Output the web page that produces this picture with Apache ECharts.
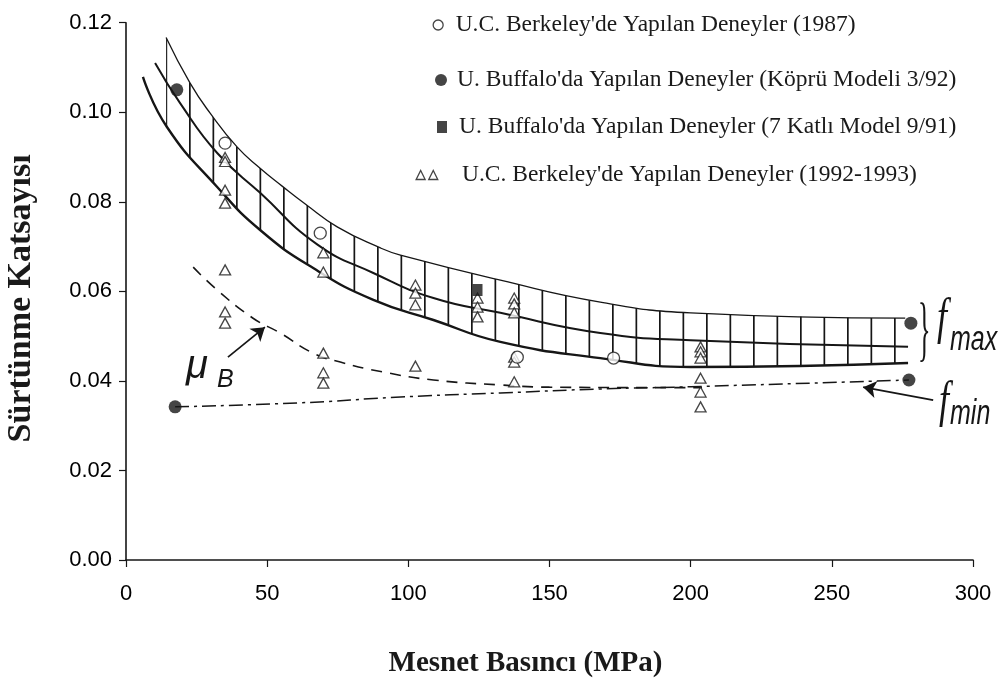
<!DOCTYPE html>
<html><head><meta charset="utf-8">
<script src="https://cdn.jsdelivr.net/npm/echarts@6/dist/echarts.min.js"></script>
<style>html,body{margin:0;padding:0;background:#fff}#c{width:1000px;height:684px}</style>
</head><body><div id="c"></div>
<script>
// ---- data ----
const xTickValues = [0, 50, 100, 150, 200, 250, 300];
const yTickLabels = ['0.00', '0.02', '0.04', '0.06', '0.08', '0.10', '0.12'];

const legendNames = [
  "U.C. Berkeley'de Yapılan Deneyler (1987)",
  "U. Buffalo'da Yapılan Deneyler (Köprü Modeli 3/92)",
  "U. Buffalo'da Yapılan Deneyler (7 Katlı Model 9/91)",
  "U.C. Berkeley'de Yapılan Deneyler (1992-1993)"
];

const bandUpper = [[14.2,0.1167],[22.7,0.1065],[29.8,0.0998],[39.4,0.0922],[47.5,0.0875],[55.3,0.0835],[63.5,0.0795],[74.8,0.0744],[90.1,0.0697],[97.2,0.0681],[132.6,0.0625],[168,0.0576],[200,0.0552],[276,0.0540]];
const bandLower = [[6,0.1079],[14.5,0.0967],[32.3,0.0833],[47.5,0.0737],[66.3,0.0652],[87.6,0.0581],[108.9,0.0536],[132.6,0.0487],[168,0.0451],[200,0.0431],[277,0.0440]];
const bandMiddle = [[10.3,0.1110],[19.1,0.1021],[32.3,0.0909],[47.5,0.0820],[67.7,0.0705],[87.6,0.0641],[108.9,0.0585],[132.6,0.0552],[168,0.0507],[200,0.0491],[277,0.0476]];
const muB = [[23.8,0.0654],[32.3,0.0603],[45,0.0540],[54.6,0.0507],[66.3,0.0462],[75.9,0.0442],[91,0.0420],[108.9,0.0402],[132.6,0.0391],[150,0.0386],[192,0.0385],[204,0.0385]];
const fMin = [[17.4,0.0342],[61.7,0.0351],[97.2,0.0364],[132.6,0.0373],[168,0.0382],[200,0.0387],[277.3,0.0402]];

const berkeley1987 = [[35.1,0.0931],[68.8,0.0730],[138.6,0.0453],[172.7,0.0451]];
const buffaloBridge = [[18,0.1050],[17.4,0.0342],[278,0.0529],[277.3,0.0402]];
const buffalo7Story = [[124.5,0.0603]];
const berkeley1992 = [[35.1,0.0899],[35.1,0.0890],[35.1,0.0826],[35.1,0.0797],[35.1,0.0648],[35.1,0.0554],[35.1,0.0529],
  [69.9,0.0686],[69.9,0.0643],[69.9,0.0462],[69.9,0.0418],[69.9,0.0395],
  [102.5,0.0614],[102.5,0.0596],[102.5,0.0570],[102.5,0.0433],
  [124.5,0.0585],[124.5,0.0565],[124.5,0.0543],
  [137.5,0.0585],[137.5,0.0572],[137.5,0.0552],[137.5,0.0453],[137.5,0.0442],[137.5,0.0398],
  [203.5,0.0476],[203.5,0.0465],[203.5,0.0451],[203.5,0.0406],[203.5,0.0375],[203.5,0.0342]];

const muBArrow = [[36.1,0.0453],[49.2,0.0520]];
const fMinArrow = [[285.9,0.0357],[261.1,0.0386]];

// ---- styling ----
const INK = '#161616';
const hc = document.createElement('canvas');
hc.width = 47; hc.height = 8;
const hg = hc.getContext('2d');
hg.fillStyle = INK;
hg.fillRect(1, 0, 1.7, 8);
hg.fillRect(24.5, 0, 1.7, 8);

const chart = echarts.init(document.getElementById('c'), null, {renderer: 'canvas'});

function legendBox(name, top, left, iw, ih, icon, itemStyle, pad) {
  return {
    data: [{name: name, icon: icon, itemStyle: itemStyle}],
    top: top, left: left, padding: 0, itemWidth: iw, itemHeight: ih,
    selectedMode: false,
    textStyle: {fontFamily: 'Liberation Serif', fontSize: 23.5, color: '#1a1a1a', padding: [0, 0, 0, pad]}
  };
}
const openStyle = {color: '#fff', borderColor: INK, borderWidth: 1.3};
const fillStyle = {color: INK, borderWidth: 0};

function arrowLine(pts) {
  return {silent: true, symbol: ['none', 'arrow'], symbolSize: 13, label: {show: false},
    itemStyle: {color: INK},
    lineStyle: {color: INK, width: 1.7, type: 'solid'},
    emphasis: {disabled: true},
    data: [[{coord: pts[0]}, {coord: pts[1]}]]};
}

const option = {
  animation: false,
  backgroundColor: '#fff',
  grid: {left: 126, right: 27, top: 22.7, bottom: 124, containLabel: false, outerBoundsMode: 'none'},
  legend: [
    legendBox(legendNames[0], 13, 432.5, 10, 10, 'circle', openStyle, 7.5),
    legendBox(legendNames[1], 68, 435, 12, 12, 'circle', fillStyle, 5),
    legendBox(legendNames[2], 115, 437, 10, 12, 'rect', fillStyle, 7),
    legendBox(legendNames[3], 163, 415.5, 23, 9, 'path://M0,10 L5,0 L10,10 Z M14,10 L19,0 L24,10 Z', openStyle, 18.5)
  ],
  xAxis: {
    type: 'value', min: xTickValues[0], max: xTickValues[xTickValues.length - 1], interval: 50, z: 10,
    name: 'Mesnet Basıncı (MPa)', nameLocation: 'middle', nameGap: 89,
    nameTextStyle: {fontFamily: 'Liberation Serif', fontWeight: 'bold', fontSize: 29, color: '#1a1a1a', padding: [0, 48, 0, 0]},
    axisLine: {show: true, lineStyle: {color: INK, width: 1.6}},
    axisTick: {show: true, length: 7, lineStyle: {color: INK, width: 1.2}},
    axisLabel: {fontFamily: 'Liberation Sans', fontSize: 22, color: '#000', margin: 23},
    splitLine: {show: false}
  },
  yAxis: {
    type: 'value', min: 0, max: 0.12, interval: 0.02, z: 10,
    name: 'Sürtünme Katsayısı', nameLocation: 'middle', nameGap: 88,
    nameTextStyle: {fontFamily: 'Liberation Serif', fontWeight: 'bold', fontSize: 34, color: '#1a1a1a', padding: [0, 14, 0, 0]},
    axisLine: {show: true, lineStyle: {color: INK, width: 1.6}},
    axisTick: {show: true, length: 7, lineStyle: {color: INK, width: 1.2}},
    axisLabel: {fontFamily: 'Liberation Sans', fontSize: 22, color: '#000', margin: 14,
      formatter: function (v) { return yTickLabels[Math.round(v / 0.02)]; }},
    splitLine: {show: false}
  },
  series: [
    {name: 'fmax-upper', type: 'line', data: bandUpper, smooth: true, showSymbol: false, z: 1, silent: true,
      lineStyle: {color: INK, width: 1.3},
      areaStyle: {color: {image: hc, repeat: 'repeat'}, opacity: 1}},
    {name: 'fmax-lower', type: 'line', data: bandLower, smooth: true, showSymbol: false, z: 2, silent: true,
      lineStyle: {color: INK, width: 2.4},
      areaStyle: {color: '#fff', opacity: 1}},
    {name: 'fmax-mid', type: 'line', data: bandMiddle, smooth: true, showSymbol: false, z: 3, silent: true,
      lineStyle: {color: INK, width: 2}},
    {name: 'μB', type: 'line', data: muB, smooth: true, showSymbol: false, z: 3, silent: true, color: INK,
      lineStyle: {color: INK, width: 1.6, type: [11, 8]},
      markLine: arrowLine(muBArrow)},
    {name: 'fmin', type: 'line', data: fMin, smooth: true, showSymbol: false, z: 3, silent: true, color: INK,
      lineStyle: {color: INK, width: 1.5, type: [14, 5, 3, 5]},
      markLine: arrowLine(fMinArrow)},
    {name: legendNames[0], type: 'scatter', data: berkeley1987, symbol: 'circle', symbolSize: 12, z: 6, itemStyle: openStyle},
    {name: legendNames[1], type: 'scatter', data: buffaloBridge, symbol: 'circle', symbolSize: 13, z: 6, itemStyle: fillStyle},
    {name: legendNames[2], type: 'scatter', data: buffalo7Story, symbol: 'rect', symbolSize: [10, 12], z: 6, itemStyle: fillStyle},
    {name: legendNames[3], type: 'scatter', data: berkeley1992, symbol: 'triangle', symbolSize: [11, 10], z: 5, itemStyle: openStyle}
  ],
  graphic: [
    {type: 'text', x: 186, y: 367, z: 20, style: {text: 'μ', fontFamily: 'Liberation Sans', fontStyle: 'italic', fontSize: 40, fill: INK, verticalAlign: 'middle'}},
    {type: 'text', x: 217, y: 380, z: 20, style: {text: 'B', fontFamily: 'Liberation Sans', fontStyle: 'italic', fontSize: 25, fill: INK, verticalAlign: 'middle'}},
    {type: 'text', x: 918, y: 333, z: 20, scaleX: 0.65, scaleY: 1.8, style: {text: '}', fontFamily: 'Liberation Serif', fontSize: 40, fill: INK, verticalAlign: 'middle'}},
    {type: 'text', x: 937, y: 320, z: 20, scaleY: 1.4, style: {text: 'f', fontFamily: 'Liberation Serif', fontStyle: 'italic', fontSize: 36, fill: INK, verticalAlign: 'middle'}},
    {type: 'text', x: 950, y: 340, z: 20, scaleY: 1.4, style: {text: 'max', fontFamily: 'Liberation Sans', fontStyle: 'italic', fontSize: 25, fill: INK, verticalAlign: 'middle'}},
    {type: 'text', x: 939, y: 403, z: 20, scaleY: 1.4, style: {text: 'f', fontFamily: 'Liberation Serif', fontStyle: 'italic', fontSize: 36, fill: INK, verticalAlign: 'middle'}},
    {type: 'text', x: 950, y: 414, z: 20, scaleY: 1.4, style: {text: 'min', fontFamily: 'Liberation Sans', fontStyle: 'italic', fontSize: 25, fill: INK, verticalAlign: 'middle'}}
  ]
};
chart.setOption(option);
</script></body></html>
